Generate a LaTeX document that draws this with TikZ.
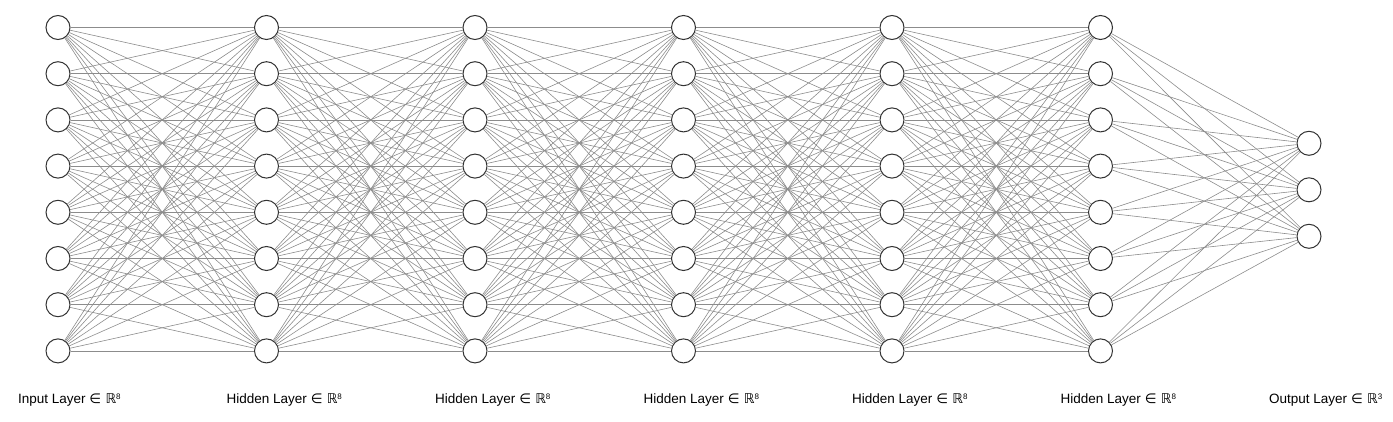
\documentclass[tikz,border=0pt]{standalone}
\usepackage{fontspec}
\setmainfont{Liberation Sans}
\newfontfamily\symfam{DejaVu Sans}
\tikzset{
  neuron/.style={circle,draw=black!80,fill=white,line width=1pt,minimum size=24pt,inner sep=0pt},
  synapse/.style={draw=black!45,line width=0.6pt},
  layerlabel/.style={anchor=base west,inner sep=0pt,font=\fontsize{13.5}{16}\selectfont}
}
\newcommand{\inspace}[1]{{\symfam ∈ ℝ}\raisebox{4pt}{\fontsize{8}{8}\selectfont #1}}

\begin{document}
\begin{tikzpicture}[x=1pt,y=-1pt]
\useasboundingbox (0,0) rectangle (1393,422);
% input + hidden layers
\foreach \l in {0,...,5}
  \foreach \n in {1,...,8}
    \node[neuron] (n-\l-\n) at ({58+208.5*\l},{27.5+46.2*(\n-1)}) {};
% output layer
\foreach \n in {1,2,3}
  \node[neuron] (n-6-\n) at (1309,{143.3+46.5*(\n-1)}) {};
% weights
\foreach \l [evaluate=\l as \k using int(\l+1)] in {0,...,4}
  \foreach \a in {1,...,8}
    \foreach \b in {1,...,8}
      \draw[synapse] (n-\l-\a) -- (n-\k-\b);
\foreach \a in {1,...,8}
  \foreach \b in {1,2,3}
    \draw[synapse] (n-5-\a) -- (n-6-\b);
% labels
\node[layerlabel] (lbl-0) at (18,403) {Input Layer \inspace{8}};
\foreach \l in {1,...,5}
  \node[layerlabel] (lbl-\l) at ({18+208.5*\l},403) {Hidden Layer \inspace{8}};
\node[layerlabel] (lbl-6) at (1269,403) {Output Layer \inspace{3}};
\end{tikzpicture}
\end{document}
